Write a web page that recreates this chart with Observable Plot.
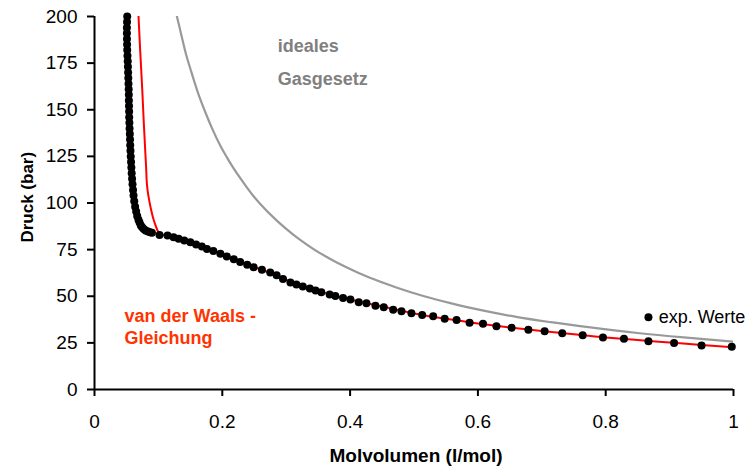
<!DOCTYPE html>
<html><head><meta charset="utf-8">
<script src="https://cdn.jsdelivr.net/npm/d3@7"></script>
<script src="https://cdn.jsdelivr.net/npm/@observablehq/plot@0.6"></script>
<style>html,body{margin:0;padding:0;background:#fff;} svg{display:block}</style>
</head><body><div id="chart"></div>
<script>
// experimental values (Molvolumen l/mol, Druck bar)
const expV = [0.0512,0.0509,0.0507,0.0507,0.0508,0.0510,0.0512,0.0516,0.0520,0.0523,0.0526,0.0529,0.0532,0.0535,0.0537,0.0538,0.0540,0.0542,0.0543,0.0546,0.0549,0.0553,0.0556,0.0559,0.0563,0.0567,0.0572,0.0577,0.0582,0.0588,0.0595,0.0603,0.0611,0.0622,0.0636,0.0652,0.0668,0.0688,0.0705,0.0725,0.0745,0.0770,0.0800,0.0835,0.0870,
  0.0899,0.1018,0.1143,0.1237,0.1316,0.1405,0.150,0.159,0.168,0.176,0.186,0.197,0.207,0.218,0.228,0.239,0.249,0.262,0.275,0.285,0.295,0.3066,0.316,0.326,0.337,0.346,0.355,0.368,0.377,0.389,0.4005,0.4135,0.4256,0.4397,0.4527,0.4674,0.4804,0.496,0.5128,0.530,0.548,0.5666,0.587,0.608,0.629,0.6527,0.679,0.7044,0.732,0.764,0.7957,0.8286,0.8669,0.907,0.950,0.9973];
const expP = [200,197,194,191,188,185,182,179,176,173,170,167,164,161,158,155,152,149,146,143,140,137,134,131,128,125,122,119,116,113,110,107,104,101,98,95.5,93,91,89.5,88,87,86,85.3,84.7,84.3,
  84.0,82.9,82.6,81.7,80.8,79.9,79.0,77.7,76.7,75.4,74.2,72.8,71.3,69.9,68.3,66.9,65.6,64.2,62.7,61.2,59.3,57.4,56.3,55.2,54.2,53.1,52.2,50.9,50.2,49.0,48.3,46.8,46.3,44.9,44.1,42.7,42.0,40.9,40.0,39.3,37.9,37.2,35.8,35.2,33.9,33.1,32.0,31.3,30.2,29.1,27.9,27.2,25.9,25.0,23.6,22.9];

// van der Waals curve
const vdwV = [0.0689,0.0716,0.0747,0.0770,0.0794,0.0808,0.0820,0.0838,0.0857,0.0885,0.0914,0.0950,0.0987,0.1018,0.110,0.120,0.130,0.140,0.150,0.160,0.170,0.180,0.190,0.200,0.220,0.240,0.260,0.280,0.300,0.330,0.360,0.400,0.450,0.500,0.550,0.600,0.650,0.700,0.750,0.800,0.850,0.900,0.950,1.0];
const vdwP = [200,181,161,144,128,119,110.3,105,101.3,96.5,92.4,88.5,85.3,83.5,82.7,81.9,80.9,79.9,78.9,77.7,76.4,75.0,73.7,72.4,69.6,66.8,64.4,61.9,58.8,54.8,51.8,48.3,44.5,40.8,37.9,35.4,33.3,31.4,29.6,27.9,26.5,25.2,23.9,22.7];

// ideal gas curve
const idealV = [0.129,0.136,0.143,0.150,0.161,0.176,0.184,0.198,0.207,0.215,0.235,0.249,0.258,0.287,0.312,0.323,0.3535,0.369,0.395,0.430,0.470,0.516,0.557,0.583,0.607,0.662,0.714,0.776,0.8496,0.922,1.0];
const idealP = [200,190,180,172,160,146.5,140,130,124.6,120,110,103.6,100,90,82.8,80,73.0,70,65.4,60,55,50,46.3,44.2,42.4,38.8,36.1,33.3,30.3,27.9,25.7];

const xTicks = [0,0.2,0.4,0.6,0.8,1];
const xTickLabels = ["0","0.2","0.4","0.6","0.8","1"];
const yTicks = [0,25,50,75,100,125,150,175,200];
const yTickLabels = ["0","25","50","75","100","125","150","175","200"];

const expData = expV.map((v,i)=>({v, p: expP[i]}));
const vdwData = vdwV.map((v,i)=>({v, p: vdwP[i]}));
const idealData = idealV.map((v,i)=>({v, p: idealP[i]}));

const font = "'Liberation Sans', Arial, sans-serif";
const chart = Plot.plot({
  width: 749, height: 468,
  marginLeft: 94, marginRight: 16, marginTop: 16, marginBottom: 79,
  style: {fontFamily: font, fontSize: "19px", color: "#000", background: "#fff"},
  x: {domain: [0, 1]},
  y: {domain: [0, 200]},
  marks: [
    Plot.line(idealData, {x: "v", y: "p", stroke: "#999999", strokeWidth: 2.2, curve: "monotone-x", clip: true}),
    Plot.line(vdwData, {x: "v", y: "p", stroke: "#ff0000", strokeWidth: 2, curve: "monotone-y", clip: true}),
    Plot.dot(expData, {x: "v", y: "p", r: 4, fill: "#000", stroke: "none"}),
    Plot.ruleX([0], {stroke: "#000", strokeWidth: 2}),
    Plot.ruleY([0], {stroke: "#000", strokeWidth: 2}),
    Plot.axisX({ticks: xTicks, tickFormat: d => xTickLabels[xTicks.indexOf(d)], tickSize: 7, tickPadding: 18, strokeWidth: 2, label: null, fontSize: 19}),
    Plot.axisY({ticks: yTicks, tickFormat: d => yTickLabels[yTicks.indexOf(d)], tickSize: 7, tickPadding: 10, strokeWidth: 2, label: null, fontSize: 19}),
    Plot.text(["Molvolumen (l/mol)"], {frameAnchor: "bottom", dx: 2, dy: 72.7, textAnchor: "middle", lineAnchor: "bottom", fontWeight: "bold", fontSize: 19}),
    Plot.text(["Druck (bar)"], {frameAnchor: "left", dx: -66.5, dy: -5.8, rotate: -90, textAnchor: "middle", lineAnchor: "middle", fontWeight: "bold", fontSize: 17}),
    Plot.text(["ideales"], {x: 0.2866, y: 180.9, textAnchor: "start", lineAnchor: "bottom", fontWeight: "bold", fontSize: 18, fill: "#808080"}),
    Plot.text(["Gasgesetz"], {x: 0.2866, y: 163.3, textAnchor: "start", lineAnchor: "bottom", fontWeight: "bold", fontSize: 18, fill: "#808080"}),
    Plot.text(["van der Waals -"], {x: 0.047, y: 36.1, textAnchor: "start", lineAnchor: "bottom", fontWeight: "bold", fontSize: 18, fill: "#ff3300"}),
    Plot.text(["Gleichung"], {x: 0.047, y: 24.5, textAnchor: "start", lineAnchor: "bottom", fontWeight: "bold", fontSize: 18, fill: "#ff3300"}),
    Plot.dot([0], {x: () => 0.8669, y: () => 38.8, r: 4, fill: "#000", stroke: "none"}),
    Plot.text(["exp. Werte"], {x: 0.8829, y: 38.8, textAnchor: "start", lineAnchor: "middle", fontSize: 18, fill: "#000"})
  ]
});
document.getElementById("chart").appendChild(chart);
</script>
</body></html>
